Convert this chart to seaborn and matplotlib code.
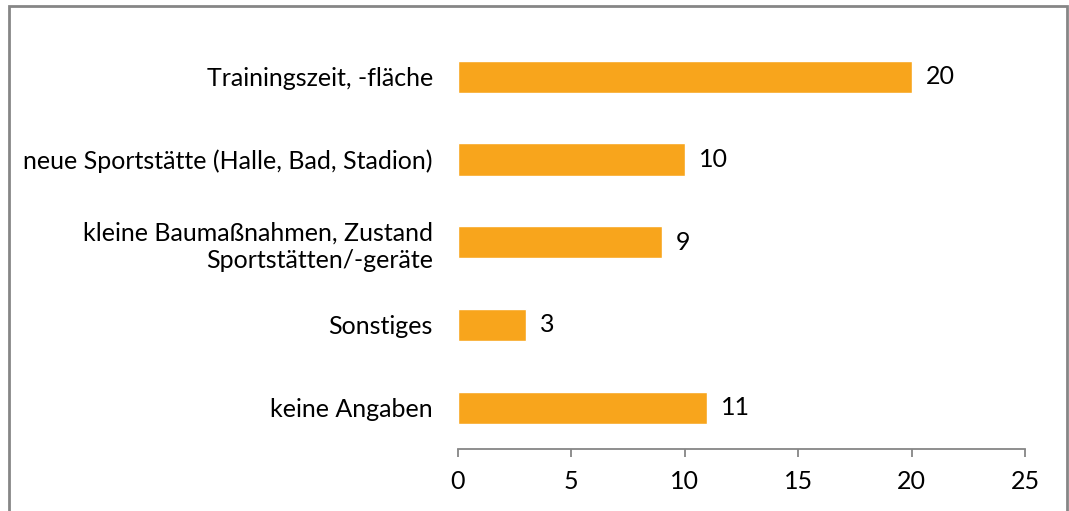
import matplotlib
matplotlib.use("Agg")
import matplotlib.pyplot as plt
import seaborn as sns
import pandas as pd
from matplotlib.patches import Rectangle

# Daten
kategorien = [
    "Trainingszeit, -fläche",
    "neue Sportstätte (Halle, Bad, Stadion)",
    "kleine Baumaßnahmen, Zustand\nSportstätten/-geräte",
    "Sonstiges",
    "keine Angaben",
]
anzahl = [20, 10, 9, 3, 11]
x_ticks = [0, 5, 10, 15, 20, 25]

df = pd.DataFrame({"Kategorie": kategorien, "Anzahl": anzahl})

sns.set_theme(style="white")
plt.rcParams["font.family"] = ["Lato", "DejaVu Sans"]

fig = plt.figure(figsize=(10.69, 5.11), dpi=100)
ax = fig.add_axes([0.4284, 0.1213, 0.5304, 0.8092])

sns.barplot(data=df, y="Kategorie", x="Anzahl", color="#F8A51C",
            saturation=1, width=0.39, orient="h", ax=ax)

# Werte neben die Balken schreiben
for i, v in enumerate(anzahl):
    ax.annotate(str(v), xy=(v, i), xytext=(10, 0), textcoords="offset points",
                ha="left", va="center", fontsize=18, color="black")

ax.set_xlim(0, 25)
ax.set_ylim(4.5, -0.5)
ax.set_xticks(x_ticks)
ax.set_xlabel("")
ax.set_ylabel("")

for s in ["top", "right", "left"]:
    ax.spines[s].set_visible(False)
ax.spines["bottom"].set_color("#868686")
ax.spines["bottom"].set_linewidth(1.3)

ax.tick_params(axis="x", bottom=True, direction="out", length=6, width=1.3,
               color="#868686", labelsize=18, labelcolor="black", pad=9)
ax.tick_params(axis="y", left=False, labelsize=18, labelcolor="black", pad=12)
for lbl in ax.get_yticklabels():
    lbl.set_horizontalalignment("right")
    lbl.set_multialignment("right")
    lbl.set_linespacing(1.25)

# grauer Rahmen (unten offen)
fig.add_artist(Rectangle((9 / 1069, -0.1), (1067 - 9) / 1069, 1.1 - 6 / 511,
                         transform=fig.transFigure, fill=False,
                         edgecolor="#868686", linewidth=2, clip_on=False))

fig.savefig("out.png", dpi=100)
